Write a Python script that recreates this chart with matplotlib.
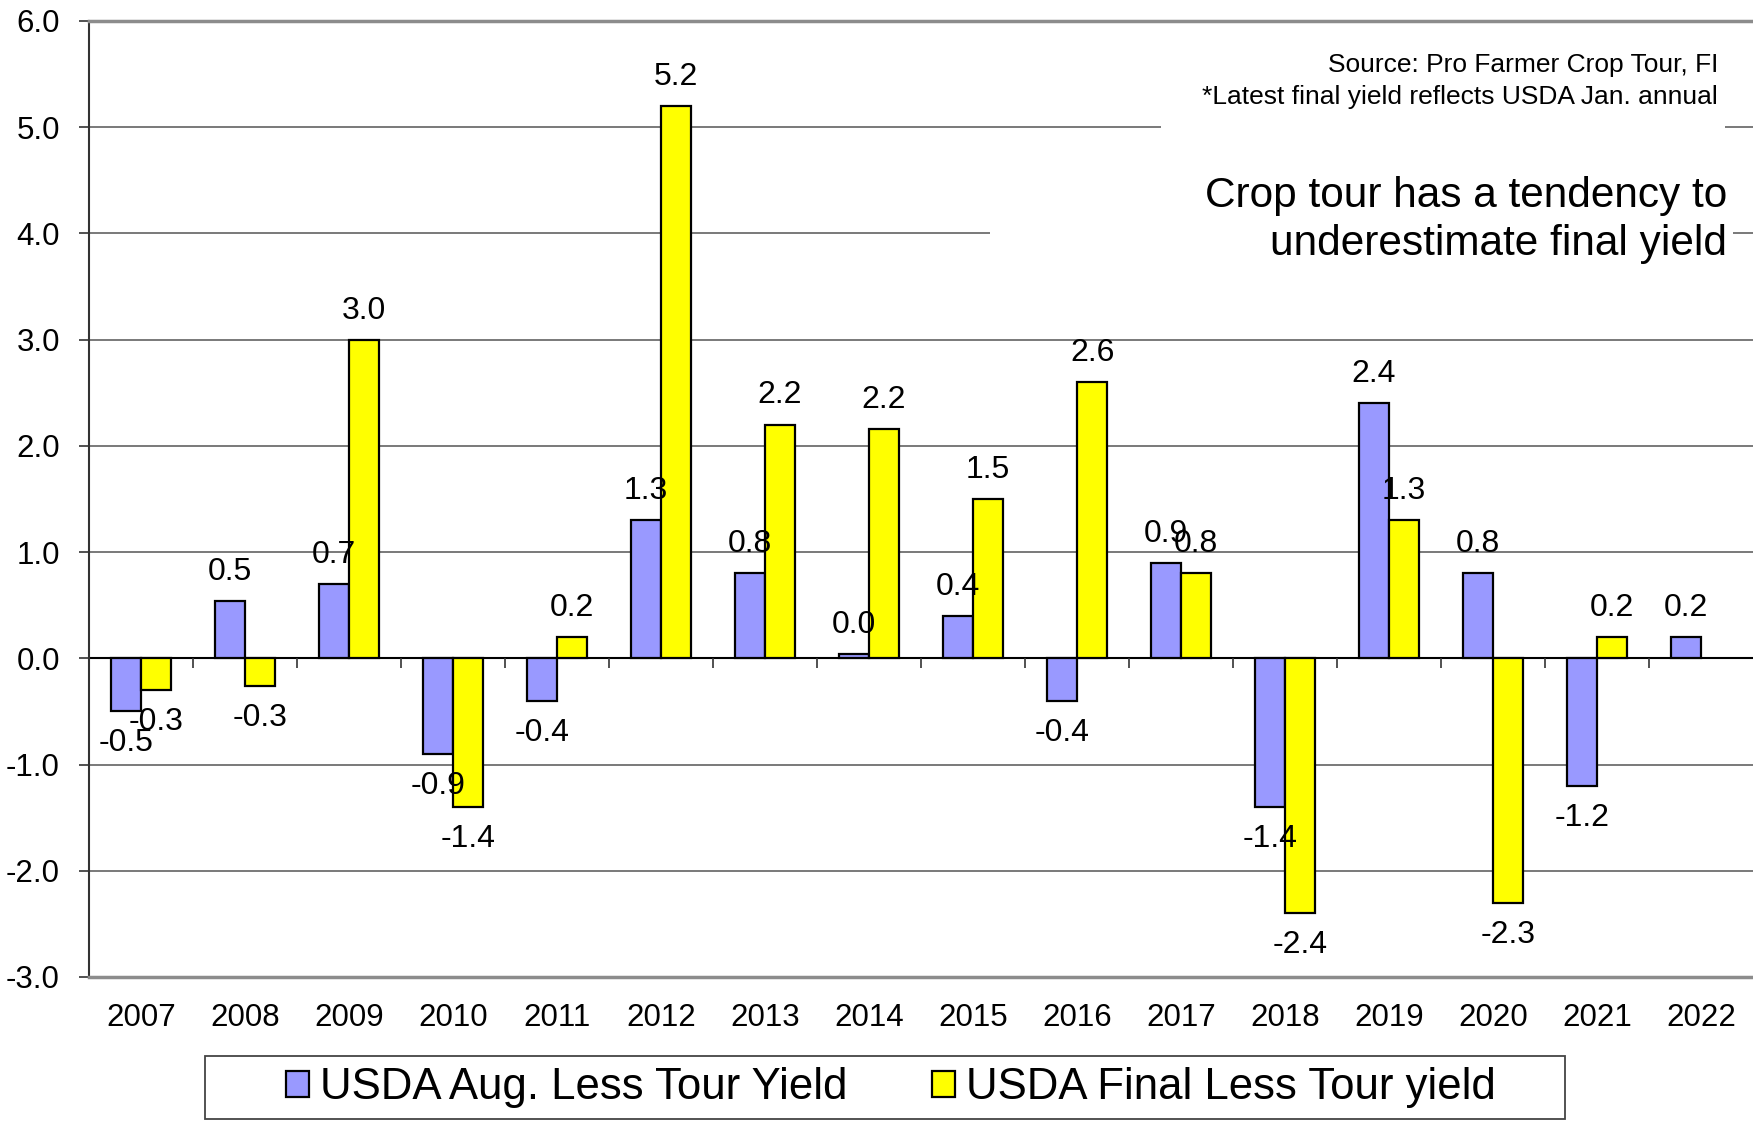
import numpy as np
import matplotlib.pyplot as plt
from matplotlib.patches import Patch, Rectangle

plt.rcParams["font.family"] = ["Liberation Sans", "DejaVu Sans"]

# ==============================
# DATA
# ==============================
years = ["2007", "2008", "2009", "2010", "2011", "2012", "2013", "2014",
         "2015", "2016", "2017", "2018", "2019", "2020", "2021", "2022"]
aug_less_tour = [-0.5, 0.54, 0.7, -0.9, -0.4, 1.3, 0.8, 0.04,
                 0.4, -0.4, 0.9, -1.4, 2.4, 0.8, -1.2, 0.2]
final_less_tour = [-0.3, -0.26, 3.0, -1.4, 0.2, 5.2, 2.2, 2.16,
                   1.5, 2.6, 0.8, -2.4, 1.3, -2.3, 0.2, np.nan]
series_names = ["USDA Aug. Less Tour Yield", "USDA Final Less Tour yield"]
y_ticks = [-3.0, -2.0, -1.0, 0.0, 1.0, 2.0, 3.0, 4.0, 5.0, 6.0]

source_note = "Source: Pro Farmer Crop Tour, FI\n*Latest final yield reflects USDA Jan. annual"
headline = "Crop tour has a tendency to\nunderestimate final yield"

BLUE = "#9999FF"
YELLOW = "#FFFF00"
W, H = 1753, 1128


def fig_box(x0, y0, x1, y1):
    # pixel box (origin top-left) -> figure fraction rectangle
    return (x0 / W, 1 - y1 / H), (x1 - x0) / W, (y1 - y0) / H


# ==============================
# PLOT
# ==============================
fig = plt.figure(figsize=(W / 100, H / 100), dpi=100)
ax = fig.add_axes([89 / W, 1 - 977 / H, 1 - 89 / W, (977 - 21) / H])

x = np.arange(len(years))
bw = 0.29
ax.bar(x - bw / 2, aug_less_tour, bw, color=BLUE, edgecolor="black",
       linewidth=1.6, zorder=3)
ax.bar(x + bw / 2, final_less_tour, bw, color=YELLOW, edgecolor="black",
       linewidth=1.6, zorder=3)

# value labels
for offs, vals in ((-bw / 2, aug_less_tour), (bw / 2, final_less_tour)):
    for xi, v in zip(x, vals):
        if np.isnan(v):
            continue
        ax.annotate(f"{v:.1f}", (xi + offs, v),
                    xytext=(0, 21 if v >= 0 else -23), textcoords="offset points",
                    ha="center", va="center", fontsize=23, zorder=5)

# axes styling
ax.set_xlim(-0.5, len(years) - 0.5)
ax.set_ylim(-3, 6)
ax.set_yticks(y_ticks)
ax.set_yticklabels([f"{t:.1f}" for t in y_ticks])
ax.set_xticks(x)
ax.set_xticklabels(years)
ax.tick_params(axis="x", length=0, pad=19, labelsize=22.5)
ax.tick_params(axis="y", length=7, width=1.2, pad=14, labelsize=22.5,
               color="#333333")
ax.yaxis.grid(True, color="#555555", linewidth=1.1)
ax.set_axisbelow(True)
for side in ("top", "bottom"):
    ax.spines[side].set_color("#8c8c8c")
    ax.spines[side].set_linewidth(2.5)
ax.spines["right"].set_visible(False)
ax.spines["left"].set_color("#333333")
ax.spines["left"].set_linewidth(1.5)

# zero line with category dividers
ax.axhline(0, color="black", linewidth=1.5, zorder=2)
ax.vlines(x[:-1] + 0.5, -0.09, 0, color="#333333", linewidth=1.2, zorder=2)

# white boxes behind the notes (cover gridlines)
for box in (fig_box(1161, 35, 1725, 138), fig_box(990, 150, 1733, 265)):
    ax.add_patch(Rectangle(*box, transform=fig.transFigure, facecolor="white",
                           edgecolor="none", zorder=1))

fig.text(1718 / W, 1 - 81 / H, source_note, ha="right", va="center",
         multialignment="right", fontsize=19, linespacing=1.37)
fig.text(1727 / W, 1 - 220 / H, headline, ha="right", va="center",
         multialignment="right", fontsize=30.5, linespacing=1.25)

# legend with its own frame
fig.patches.append(Rectangle(*fig_box(205, 1056, 1565, 1119),
                             transform=fig.transFigure, facecolor="white",
                             edgecolor="#444444", linewidth=1.3))
handles = [Patch(facecolor=BLUE, edgecolor="black", linewidth=1.6),
           Patch(facecolor=YELLOW, edgecolor="black", linewidth=1.6)]
fig.legend(handles, series_names, loc="center",
           bbox_to_anchor=(891 / W, 1 - 1088 / H), ncol=2, frameon=False,
           fontsize=31.5, handlelength=0.52, handleheight=0.52,
           handletextpad=0.25, columnspacing=1.95, borderpad=0.2)

fig.savefig("out.png", dpi=100, facecolor="white")
plt.close(fig)
